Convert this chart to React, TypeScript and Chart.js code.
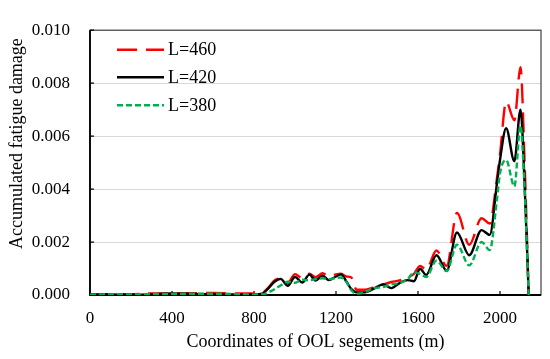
import React, { useEffect, useRef } from "react";
import { Chart, registerables } from "chart.js";

Chart.register(...registerables);

// Coordinates along the OOL (m)
const coords = [
  0, 100, 200, 300, 400, 500, 600, 700, 800, 840, 870, 900, 930, 965,
  1000, 1035, 1070, 1100, 1135, 1165, 1200, 1225, 1250, 1275, 1300,
  1340, 1380, 1430, 1470, 1510, 1550, 1580, 1610, 1640, 1690, 1740,
  1790, 1850, 1910, 1950, 1985, 2000, 2030, 2070, 2100, 2120, 2140,
];

const damageL460 = [
  0.00002, 0.00003, 0.00003, 0.00006, 0.00006, 0.00007, 0.00008, 0.00006, 0.00006, 0.00008, 0.00028, 0.00055, 0.00063, 0.00046,
  0.00079, 0.00064, 0.0008, 0.00067, 0.00082, 0.0007, 0.00078, 0.0008, 0.0007, 0.00066, 0.0002,
  0.0002, 0.00028, 0.0004, 0.00049, 0.00055, 0.00068, 0.0008, 0.0011, 0.00096, 0.00168, 0.0011,
  0.0031, 0.0019, 0.0029, 0.0027, 0.0044, 0.0053, 0.0073, 0.0066, 0.0086, 0.005, 0,
];

const damageL420 = [
  0.00001, 0.00002, 0.00001, 0.00003, 0.00006, 0.00004, 0.00003, 0.00002, 0.00002, 0.00005, 0.00025, 0.0005, 0.00061, 0.00035,
  0.00068, 0.00047, 0.00077, 0.00055, 0.00073, 0.00056, 0.0007, 0.00078, 0.00052, 0.00022, 0.0001,
  0.0001, 0.00022, 0.0004, 0.00026, 0.00045, 0.00056, 0.00052, 0.00099, 0.00076, 0.0015, 0.00092,
  0.00236, 0.0015, 0.00245, 0.00227, 0.0042, 0.0051, 0.0063, 0.00505, 0.0070, 0.0042, 0,
];

const damageL380 = [
  0.00001, 0.00002, 0.00002, 0.00004, 0.00004, 0.00005, 0.00005, 0.00004, 0.00002, 0.00002, 0.0001, 0.00022, 0.00036, 0.0005,
  0.00046, 0.00058, 0.00055, 0.0006, 0.00063, 0.0006, 0.00064, 0.00066, 0.0005, 0.00018, 0.00005,
  0.0001, 0.00025, 0.0003, 0.0004, 0.00045, 0.0006, 0.00085, 0.0008, 0.00068, 0.0013, 0.0009,
  0.0019, 0.00112, 0.002, 0.0017, 0.0036, 0.0046, 0.0051, 0.0041, 0.0064, 0.004, 0,
];

const seriesLabels = ["L=460", "L=420", "L=380"];
const seriesColors = ["#ff0000", "#000000", "#00b050"];
const seriesDashes: number[][] = [[20, 9], [], [6, 3]];

const xTitle = "Coordinates of OOL segements (m)";
const yTitle = "Accumulated fatigue damage";
const FONT = '"Liberation Serif", "Times New Roman", serif';

const framePlugin = {
  id: "frameAndText",
  beforeDraw(chart: any) {
    const { ctx, width, height } = chart;
    ctx.save();
    ctx.fillStyle = "#ffffff";
    ctx.fillRect(0, 0, width, height);
    ctx.restore();
  },
  beforeDatasetsDraw(chart: any) {
    const { ctx, chartArea, scales } = chart;
    const { left, right, top, bottom } = chartArea;
    ctx.save();
    ctx.strokeStyle = "#404040";
    ctx.lineWidth = 1.2;
    ctx.strokeRect(left, top, right - left, bottom - top);
    ctx.strokeStyle = "#000000";
    ctx.lineWidth = 1.8;
    ctx.beginPath();
    ctx.moveTo(left, top);
    ctx.lineTo(left, bottom);
    ctx.lineTo(right, bottom);
    ctx.stroke();
    ctx.lineWidth = 1.2;
    ctx.beginPath();
    scales.x.ticks.forEach((t: any) => {
      const px = scales.x.getPixelForValue(t.value);
      ctx.moveTo(px, bottom);
      ctx.lineTo(px, bottom - 4);
    });
    scales.y.ticks.forEach((t: any) => {
      const py = scales.y.getPixelForValue(t.value);
      ctx.moveTo(left, py);
      ctx.lineTo(left + 4, py);
    });
    ctx.stroke();
    ctx.restore();
  },
  afterDraw(chart: any) {
    const { ctx, chartArea } = chart;
    const { left, right, top, bottom } = chartArea;
    ctx.save();
    ctx.fillStyle = "#000000";
    ctx.font = `18px ${FONT}`;
    ctx.textAlign = "center";
    ctx.textBaseline = "alphabetic";
    ctx.fillText(xTitle, (left + right) / 2, bottom + 52);
    ctx.save();
    ctx.translate(21.5, (top + bottom) / 2 - 19);
    ctx.rotate(-Math.PI / 2);
    ctx.fillText(yTitle, 0, 0);
    ctx.restore();

    // legend
    const rows = [top + 19.5, top + 47, top + 75];
    seriesLabels.forEach((label, i) => {
      ctx.save();
      ctx.strokeStyle = seriesColors[i];
      ctx.lineWidth = 2.5;
      ctx.setLineDash(seriesDashes[i]);
      ctx.beginPath();
      ctx.moveTo(left + 27, rows[i]);
      ctx.lineTo(left + 74, rows[i]);
      ctx.stroke();
      ctx.restore();
      ctx.textAlign = "left";
      ctx.textBaseline = "middle";
      ctx.font = `18px ${FONT}`;
      ctx.fillStyle = "#000000";
      ctx.fillText(label, left + 78, rows[i] + 1);
    });
    ctx.restore();
  },
};

export default function App() {
  const canvasRef = useRef<HTMLCanvasElement | null>(null);

  useEffect(() => {
    const canvas = canvasRef.current;
    if (!canvas) return;
    const series = [damageL460, damageL420, damageL380];
    const chart = new Chart(canvas, {
      type: "line",
      data: {
        datasets: series.map((vals, i) => ({
          label: seriesLabels[i],
          data: coords.map((x, j) => ({ x, y: vals[j] })),
          borderColor: seriesColors[i],
          borderWidth: 2.4,
          borderDash: seriesDashes[i],
          pointRadius: 0,
          fill: false,
          cubicInterpolationMode: "monotone" as const,
          order: 3 - i,
        })),
      },
      options: {
        responsive: false,
        animation: false,
        devicePixelRatio: 1,
        layout: { padding: { top: 15, right: 9, left: 0, bottom: 0 } },
        plugins: {
          legend: { display: false },
          tooltip: { enabled: false },
        },
        scales: {
          x: {
            type: "linear",
            min: 0,
            max: 2200,
            ticks: {
              stepSize: 400,
              includeBounds: false,
              autoSkip: false,
              maxRotation: 0,
              padding: 13,
              color: "#000000",
              font: { family: FONT, size: 17 },
              callback: (v: any) => String(Math.round(Number(v))),
            },
            grid: { display: false, drawTicks: false },
            border: { display: false },
            afterFit: (s: any) => {
              s.height = 64;
            },
          },
          y: {
            type: "linear",
            min: 0,
            max: 0.01,
            ticks: {
              stepSize: 0.002,
              padding: 20,
              color: "#000000",
              font: { family: FONT, size: 17 },
              callback: (v: any) => Number(v).toFixed(3),
            },
            grid: { color: "#d9d9d9", lineWidth: 1, drawTicks: false },
            border: { display: false },
            afterFit: (s: any) => {
              s.width = 90;
            },
          },
        },
      },
      plugins: [framePlugin],
    });
    return () => chart.destroy();
  }, []);

  return (
    <div style={{ position: "absolute", left: 0, top: 0, width: 550, height: 359 }}>
      <canvas ref={canvasRef} width={550} height={359} style={{ display: "block" }} />
    </div>
  );
}
